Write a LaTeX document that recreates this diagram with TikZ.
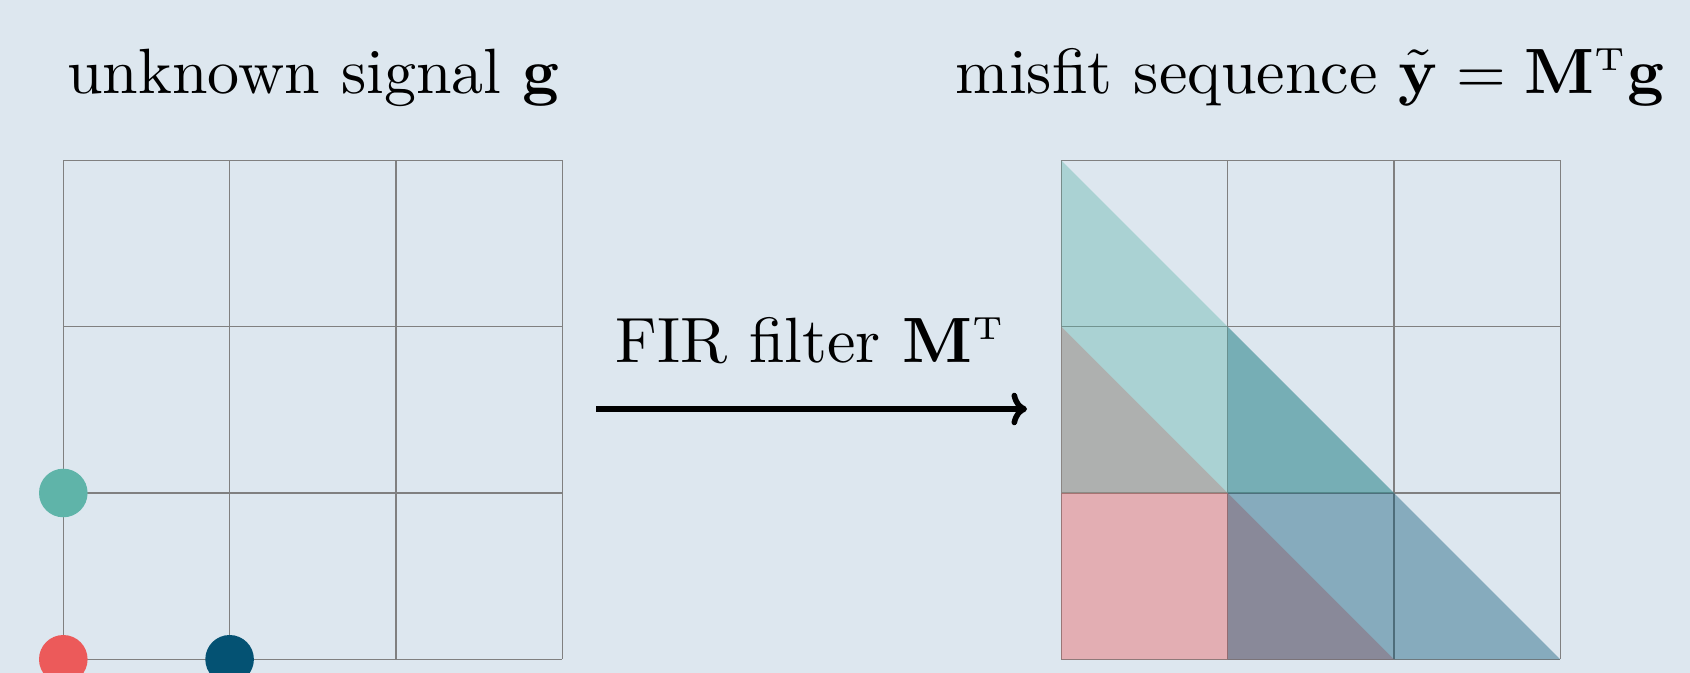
\documentclass[tikz,border=0pt]{standalone}
\usetikzlibrary{arrows.meta}
\definecolor{bg}{RGB}{221,231,239}
\definecolor{gridc}{RGB}{128,128,128}
\definecolor{cteal}{RGB}{95,180,169}
\definecolor{cred}{RGB}{236,90,90}
\definecolor{cblue}{RGB}{4,82,115}
\newcommand{\trnsp}{^{\scriptscriptstyle\mathrm{T}}}
\tikzset{
  gridline/.style={draw=gridc, line width=0.6pt},
  title/.style={font=\normalsize, inner sep=0pt, scale=3.2},
  dot/.style={circle, inner sep=0pt, minimum size=24.3pt, fill=#1},
  band/.style={fill=#1, fill opacity=0.4},
}
\begin{document}
\begin{tikzpicture}[x=0.5pt,y=-0.5pt]
\fill[bg] (0,0) rectangle (1690,673);
\useasboundingbox (0,0) rectangle (1690,673);
\clip (0,0) rectangle (1690,673);
% titles
\node[title, anchor=base west] (ltitle) at (66,93.5) {unknown signal $\mathbf{g}$};
\node[title, anchor=base east] (rtitle) at (1667,93.5) {misfit sequence $\tilde{\mathbf{y}} = \mathbf{M}\trnsp\mathbf{g}$};
% left grid
\begin{scope}[shift={(63.3,160.4)}, x=83.15pt, y=-83.15pt]
  \foreach \i in {0,1,2,3} {
    \draw[gridline] (\i,0) -- (\i,3);
    \draw[gridline] (0,\i) -- (3,\i);
  }
  \node[dot=cteal] (gteal) at (0,2) {};
  \node[dot=cred] (gred) at (0,3) {};
  \node[dot=cblue] (gblue) at (1,3) {};
\end{scope}
% right grid
\begin{scope}[shift={(1061.3,160.4)}, x=83.15pt, y=-83.15pt]
  \foreach \i in {0,1,2,3} {
    \draw[gridline] (\i,0) -- (\i,3);
    \draw[gridline] (0,\i) -- (3,\i);
  }
  \fill[band=cred] (0,1) -- (2,3) -- (0,3) -- cycle;
  \fill[band=cblue] (1,1) -- (3,3) -- (1,3) -- cycle;
  \fill[band=cteal] (0,0) -- (2,2) -- (0,2) -- cycle;
\end{scope}
% arrow
\coordinate (astart) at (596,409);
\coordinate (aend) at (1027,409);
\draw[line width=2.8pt, -{To}] (astart) -- (aend);
\node[title, anchor=base] (flabel) at (811,362.7) {FIR filter $\mathbf{M}\trnsp$};
\end{tikzpicture}
\end{document}
